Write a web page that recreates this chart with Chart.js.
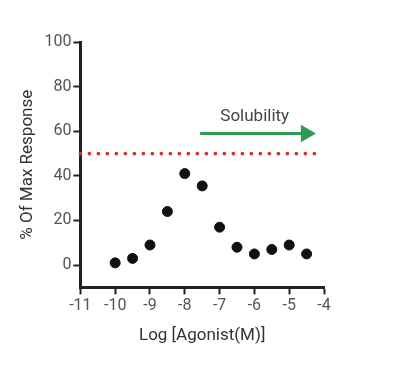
<!DOCTYPE html>
<html>
<head>
<meta charset="utf-8">
<script src="https://cdn.jsdelivr.net/npm/chart.js@4/dist/chart.umd.min.js"></script>
<style>
  html, body { margin: 0; padding: 0; background: #fff; }
  #wrap { width: 395px; height: 368px; }
</style>
</head>
<body>
<div id="wrap"><canvas id="doseChart"></canvas></div>
<script>
// data
const logDose = [-10, -9.5, -9, -8.5, -8, -7.5, -7, -6.5, -6, -5.5, -5, -4.5];
const response = [1, 3, 9, 24, 41, 35.5, 17, 8, 5, 7, 9, 5];
const xTicks = [-11, -10, -9, -8, -7, -6, -5, -4];
const yTicks = [0, 20, 40, 60, 80, 100];
const limitX = [-11, -4.2];
const limitY = 50;
const arrowX = [-7.56, -4.52];
const arrowY = 59;
const arrowLabel = 'Solubility';

const points = logDose.map((x, i) => ({ x: x, y: response[i] }));

// text above the green arrow
const labelPlugin = {
  id: 'arrowLabel',
  afterDatasetsDraw(chart) {
    const { ctx, scales } = chart;
    const x = scales.x.getPixelForValue((arrowX[0] + arrowX[1]) / 2 + 0.05);
    const y = scales.y.getPixelForValue(arrowY) - 17;
    ctx.save();
    ctx.font = '17px Roboto';
    ctx.fillStyle = '#444';
    ctx.textAlign = 'center';
    ctx.textBaseline = 'middle';
    ctx.fillText(arrowLabel, x, y);
    ctx.restore();
  }
};

const ctx = document.getElementById('doseChart').getContext('2d');
const doseChart = new Chart(ctx, {
  type: 'scatter',
  data: {
    datasets: [
      {
        label: 'limit',
        data: limitX.map(x => ({ x: x, y: limitY })),
        showLine: true,
        borderColor: '#d9312b',
        borderWidth: 3.8,
        borderDash: [0, 9],
        borderCapStyle: 'round',
        pointRadius: 0,
        clip: false
      },
      {
        label: 'arrow',
        data: arrowX.map(x => ({ x: x, y: arrowY })),
        showLine: true,
        borderColor: '#2e9a55',
        backgroundColor: '#2e9a55',
        borderWidth: 3,
        pointStyle: 'triangle',
        pointRotation: 90,
        pointRadius: [0, 10],
        pointBorderWidth: 0,
        clip: false
      },
      {
        label: 'response',
        data: points,
        backgroundColor: '#111',
        borderColor: '#111',
        pointRadius: 5,
        clip: false
      }
    ]
  },
  options: {
    responsive: true,
    maintainAspectRatio: false,
    animation: false,
    layout: { padding: { left: 14, right: 71, top: 42, bottom: 18 } },
    plugins: {
      legend: { display: false },
      tooltip: { enabled: false }
    },
    scales: {
      x: {
        type: 'linear',
        min: -11,
        max: -4,
        afterBuildTicks: s => { s.ticks = xTicks.map(v => ({ value: v })); },
        border: { display: true, color: '#222', width: 3 },
        grid: { drawOnChartArea: false, drawTicks: true, tickLength: 7, tickColor: '#222', tickWidth: 2 },
        ticks: { color: '#555', font: { family: 'Roboto', size: 16 }, padding: 2 },
        title: { display: true, text: 'Log [Agonist(M)]', color: '#333', font: { family: 'Roboto', size: 17 }, padding: { top: 8 } }
      },
      y: {
        min: -10,
        max: 100,
        afterBuildTicks: s => { s.ticks = yTicks.map(v => ({ value: v })); },
        border: { display: true, color: '#222', width: 3 },
        grid: { drawOnChartArea: false, drawTicks: true, tickLength: 7, tickColor: '#222', tickWidth: 2 },
        ticks: { color: '#555', font: { family: 'Roboto', size: 16 }, padding: 2 },
        title: { display: true, text: '% Of Max Response', color: '#333', font: { family: 'Roboto', size: 17 }, padding: { bottom: 4 } }
      }
    }
  },
  plugins: [labelPlugin]
});
</script>
</body>
</html>
